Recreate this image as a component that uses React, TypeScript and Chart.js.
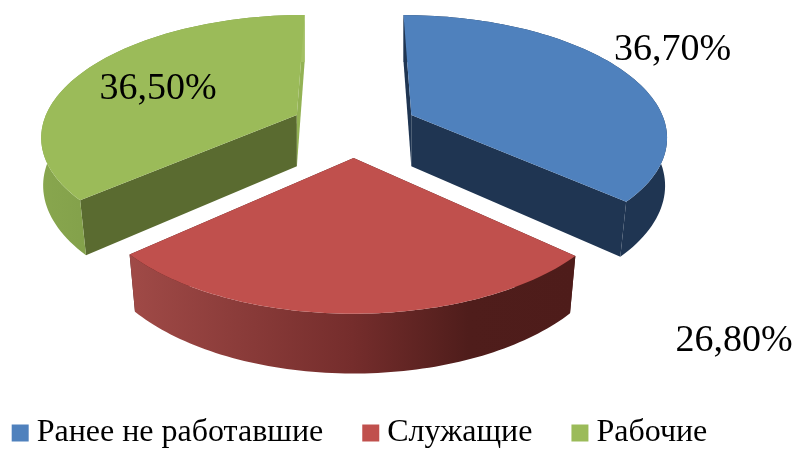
import React, { useEffect, useRef } from "react";
import { Chart, registerables } from "chart.js";

Chart.register(...registerables);

const categories = ["Ранее не работавшие", "Служащие", "Рабочие"];
const shares = [36.7, 26.8, 36.5];

const topColors = ["#4f81bd", "#c0504d", "#9bbb59"];
const cutStartColors = ["#1f3552", "#4e1c1a", "#5a6b30"];
const cutEndColors = ["#1f3552", "#4e1c1a", "#93b254"];
const rimStops = [
  [[0, "#1f3552"], [1, "#1f3552"]],
  [[0, "#a04a47"], [0.5, "#752d2c"], [0.76, "#4f1d1b"], [1, "#4e1c1a"]],
  [[0, "#88a64e"], [0.5, "#7a9844"], [0.9, "#7a9844"], [0.97, "#a3c064"], [1, "#a3c064"]],
];
const drawOrder = [0, 2, 1];
const labelOffsets = [[49, -21], [382.5, 27], [72.5, 19]];

// perspective of the tilted pie
const CX = 354, CY = 127, AX = 255, BY = 119.5, K = 0.16, EXPLODE = 0.25;

function project(x: number, y: number, low: boolean) {
  const w = 1 / (1 - K * y);
  let sx = AX * x * w;
  let sy = BY * y * w;
  if (low) {
    sx *= 1 - Math.min(0.024, Math.max(0, 0.004 + 0.031 * y));
    sy += 47 + (w - 0.85) * 32;
  }
  return { x: CX + sx, y: CY + sy };
}

function arcPoints(mid: number, a1: number, a2: number, low: boolean) {
  const ox = EXPLODE * Math.cos(mid), oy = EXPLODE * Math.sin(mid);
  const pts = [];
  const n = 80;
  for (let i = 0; i <= n; i++) {
    const a = a1 + ((a2 - a1) * i) / n;
    pts.push(project(ox + Math.cos(a), oy + Math.sin(a), low));
  }
  return { pts, apex: project(ox, oy, low) };
}

function poly(ctx: CanvasRenderingContext2D, pts: { x: number; y: number }[], fill: any) {
  ctx.beginPath();
  pts.forEach((p, i) => (i ? ctx.lineTo(p.x, p.y) : ctx.moveTo(p.x, p.y)));
  ctx.closePath();
  ctx.fillStyle = fill;
  ctx.fill();
}

const tiltPlugin = {
  id: "tilt",
  beforeDatasetDraw(chart: any, args: any) {
    const ctx: CanvasRenderingContext2D = chart.ctx;
    const arcs = args.meta.data;
    ctx.save();
    for (const i of drawOrder) {
      const { startAngle: a1, endAngle: a2 } = arcs[i].getProps(["startAngle", "endAngle"], true);
      const mid = (a1 + a2) / 2;
      const top = arcPoints(mid, a1, a2, false);
      const low = arcPoints(mid, a1, a2, true);
      const first = 0, last = top.pts.length - 1;
      poly(ctx, [top.apex, top.pts[first], low.pts[first], low.apex], cutStartColors[i]);
      poly(ctx, [top.apex, top.pts[last], low.pts[last], low.apex], cutEndColors[i]);
      const xs = top.pts.map((p) => p.x);
      const g = ctx.createLinearGradient(Math.min(...xs), 0, Math.max(...xs), 0);
      rimStops[i].forEach(([o, c]) => g.addColorStop(o as number, c as string));
      poly(ctx, [...top.pts, ...low.pts.slice().reverse()], g);
      poly(ctx, [top.apex, ...top.pts], topColors[i]);
    }
    ctx.fillStyle = "#000";
    ctx.font = '38px "Liberation Serif"';
    ctx.textAlign = "center";
    ctx.textBaseline = "middle";
    shares.forEach((v, i) => {
      const { startAngle: a1, endAngle: a2 } = arcs[i].getProps(["startAngle", "endAngle"], true);
      const mid = (a1 + a2) / 2;
      const ox = (1 + EXPLODE) * Math.cos(mid), oy = (1 + EXPLODE) * Math.sin(mid);
      const p = project(ox, oy, false);
      ctx.fillText(v.toFixed(2).replace(".", ",") + "%", p.x + labelOffsets[i][0], p.y + labelOffsets[i][1]);
    });
    ctx.restore();
    return false;
  },
};

export default function App() {
  const ref = useRef<HTMLCanvasElement>(null);
  useEffect(() => {
    const chart = new Chart(ref.current!, {
      type: "pie",
      data: {
        labels: categories,
        datasets: [{ data: shares, backgroundColor: topColors, borderWidth: 0 }],
      },
      options: {
        responsive: false,
        animation: false,
        layout: { padding: { left: -60, right: 8, bottom: -8 } },
        plugins: {
          tooltip: { enabled: false },
          legend: {
            position: "bottom",
            labels: {
              font: { family: '"Liberation Serif"', size: 32 },
              color: "#000",
              usePointStyle: true,
              pointStyle: "rect",
              boxWidth: 1,
              boxHeight: 17,
              padding: 47,
            },
          },
        },
      },
      plugins: [tiltPlugin],
    } as any);
    return () => chart.destroy();
  }, []);
  return (
    <div style={{ position: "absolute", left: 0, top: 0, width: 795, height: 451 }}>
      <canvas ref={ref} width={795} height={451} style={{ display: "block", filter: "blur(0.5px)" }} />
    </div>
  );
}
